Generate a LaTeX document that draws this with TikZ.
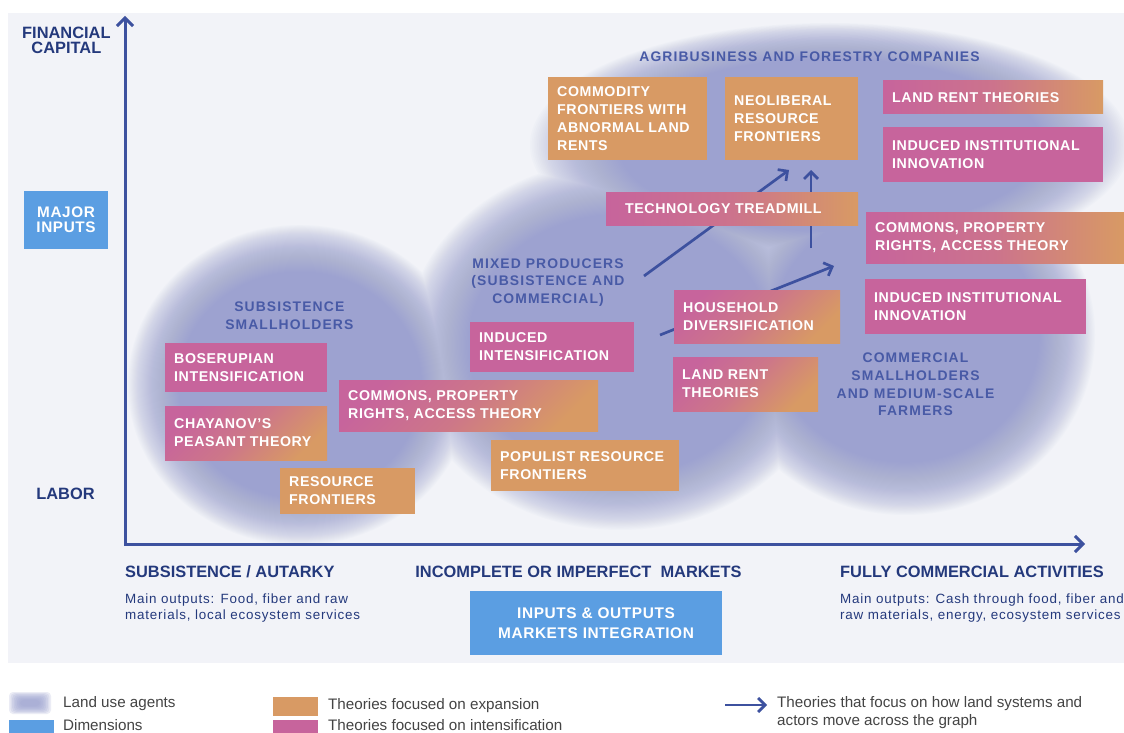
\documentclass[tikz,border=0pt]{standalone}
\usepackage{fontspec}
\setmainfont{Liberation Sans}
\newfontfamily\boxf{Liberation Sans}[LetterSpace=4]
\newfontfamily\agentf{Liberation Sans}[LetterSpace=8]
\newfontfamily\smallf{Liberation Sans}[LetterSpace=6]
\usetikzlibrary{arrows.meta}
\definecolor{panelbg}{HTML}{F2F3F8}
\definecolor{orangec}{HTML}{D89A64}
\definecolor{pinkc}{HTML}{C7649C}
\definecolor{bluec}{HTML}{5B9EE2}
\definecolor{navy}{HTML}{24397C}
\definecolor{agentc}{HTML}{485AA6}
\definecolor{axisc}{HTML}{3D519F}
\definecolor{blobc}{HTML}{9BA2D0}
\definecolor{legtext}{HTML}{444444}
\tikzset{
  tbox/.style={inner sep=0pt, outer sep=0pt},
  orangefill/.style={fill=orangec},
  pinkfill/.style={fill=pinkc},
  gradH/.style={left color=pinkc, right color=orangec, middle color=pinkc!72!orangec},
  gradD/.style={top color=pinkc, bottom color=orangec, middle color=pinkc!65!orangec, shading angle=45},
  boxtext/.style={inner sep=0pt, text=white, align=left, font={\boxf\bfseries\fontsize{14.2}{18}\selectfont}},
  dimbox/.style={fill=bluec, inner sep=0pt, outer sep=0pt, text=white, align=center},
  agent/.style={inner sep=0pt, text=agentc, align=center, font={\agentf\bfseries\fontsize{13.9}{17.6}\selectfont}},
  axislab/.style={inner sep=0pt, text=navy, align=center, font={\bfseries\fontsize{16.4}{15}\selectfont}},
  botlab/.style={inner sep=0pt, text=navy, font={\bfseries\fontsize{16.4}{18}\selectfont}},
  mainout/.style={inner sep=0pt, text=navy, align=left, anchor=west, font={\smallf\fontsize{13.4}{16}\selectfont}},
  legend/.style={inner sep=0pt, text=legtext, align=left, anchor=west, font={\fontsize{15.2}{18}\selectfont}},
  mover/.style={draw=axisc, line width=2.7pt, -{Straight Barb[length=7pt,width=14pt]}},
  axisline/.style={draw=axisc, line width=3pt, line join=miter, {Straight Barb[length=8pt,width=16pt]}-{Straight Barb[length=8pt,width=16pt]}},
  blob/.style={fill=blobc, fill opacity=0.037, nonzero rule},
}
\newcommand\theorybox[7]{%
  \pgfmathsetmacro\tbw{#4-#2}%
  \pgfmathsetmacro\tbh{#5-#3}%
  \node[tbox, #6, minimum width=\tbw pt, minimum height=\tbh pt, anchor=north west] (#1) at (#2,#3) {};
  \node[boxtext, anchor=west] (#1-t) at ([xshift=9pt]#1.west) {#7};
}
\begin{document}
\begin{tikzpicture}[x=1pt,y=-1pt]
\useasboundingbox (0,0) rectangle (1124,733);
\fill[white] (0,0) rectangle (1124,733);
% panel
\fill[panelbg] (8,13) rectangle (1124,663);
% land use agents (blurred clouds: union of soft layers)
\foreach \k in {0,...,49}{
  \pgfmathsetmacro\sc{1-0.006*\k}
  \fill[blob]
    (300,385) ellipse [x radius=\sc*172, y radius=\sc*160]
    (620,345) ellipse [x radius=\sc*215, y radius=\sc*185]
    (830,145) ellipse [x radius=\sc*300, y radius=\sc*122]
    (905,335) ellipse [x radius=\sc*190, y radius=\sc*180];
}
% movement arrows (under boxes)
\coordinate (a1s) at (644,276);
\coordinate (a1e) at (789,170);
\coordinate (a2s) at (811,248);
\coordinate (a2e) at (811,170);
\coordinate (a3s) at (660,335);
\coordinate (a3e) at (834,266);
\draw[mover] (a1s) -- (a1e);
\draw[mover] (a2s) -- (a2e);
\draw[mover] (a3s) -- (a3e);
% theory boxes
\theorybox{comm}{548}{77}{707}{160}{orangefill}{COMMODITY\\FRONTIERS WITH\\ABNORMAL LAND\\RENTS}
\theorybox{neolib}{725}{77}{858}{160}{orangefill}{NEOLIBERAL\\RESOURCE\\FRONTIERS}
\theorybox{landrentA}{883}{81}{1103}{114}{gradH}{LAND RENT THEORIES}
\theorybox{iiiA}{883}{127}{1103}{182}{pinkfill}{INDUCED INSTITUTIONAL\\INNOVATION}
\theorybox{techtm}{606}{192}{858}{225}{gradH}{\hspace*{10pt}TECHNOLOGY TREADMILL}
\theorybox{commonsA}{866}{212}{1124}{263}{gradH}{COMMONS, PROPERTY\\RIGHTS, ACCESS THEORY}
\theorybox{iiiB}{865}{279}{1086}{334}{pinkfill}{INDUCED INSTITUTIONAL\\INNOVATION}
\theorybox{hhd}{674}{290}{840}{343}{gradD}{HOUSEHOLD\\DIVERSIFICATION}
\theorybox{landrentB}{673}{357}{818}{411}{gradD}{LAND RENT\\THEORIES}
\theorybox{indint}{470}{322}{634}{372}{pinkfill}{INDUCED\\INTENSIFICATION}
\theorybox{boser}{165}{343}{327}{392}{pinkfill}{BOSERUPIAN\\INTENSIFICATION}
\theorybox{chay}{165}{406}{327}{460}{gradD}{CHAYANOV’S\\PEASANT THEORY}
\theorybox{commonsB}{339}{380}{598}{431}{gradD}{COMMONS, PROPERTY\\RIGHTS, ACCESS THEORY}
\theorybox{resfr}{280}{468}{415}{514}{orangefill}{RESOURCE\\FRONTIERS}
\theorybox{popul}{491}{440}{679}{491}{orangefill}{POPULIST RESOURCE\\FRONTIERS}
% dimension boxes
\node[dimbox, minimum width=84pt, minimum height=58pt, anchor=north west, font={\boxf\bfseries\fontsize{15.3}{15}\selectfont}] (major) at (24,191) {MAJOR\\INPUTS};
\node[dimbox, minimum width=252pt, minimum height=64pt, anchor=north west, font={\boxf\bfseries\fontsize{15.4}{19.5}\selectfont}] (inout) at (470,591) {INPUTS \& OUTPUTS\\MARKETS INTEGRATION};
% axes
\coordinate (origin) at (125,544);
\coordinate (ytip) at (125,16);
\coordinate (xtip) at (1085,544);
\draw[axisline] (ytip) -- (origin) -- (xtip);
% axis labels
\node[axislab] (fincap) at (66.4,40.8) {FINANCIAL\\CAPITAL};
\node[axislab] (labor) at (65.5,494) {LABOR};
% agents labels
\node[agent] (agri) at (809.5,57) {AGRIBUSINESS AND FORESTRY COMPANIES};
\node[agent] (subs) at (289.3,316) {SUBSISTENCE\\SMALLHOLDERS};
\node[agent] (mixed) at (548,282.5) {MIXED PRODUCERS\\(SUBSISTENCE AND\\COMMERCIAL)};
\node[agent] (comsm) at (915.5,384.5) {COMMERCIAL\\SMALLHOLDERS\\AND MEDIUM-SCALE\\FARMERS};
% bottom labels
\node[botlab, anchor=west] (subaut) at (125,572) {SUBSISTENCE / AUTARKY};
\node[botlab] (incomp) at (578.5,572) {INCOMPLETE OR IMPERFECT\ \ MARKETS};
\node[botlab, anchor=west] (fullc) at (840,572) {FULLY COMMERCIAL ACTIVITIES};
\node[mainout] (mo1) at (125,608) {Main outputs: Food, fiber and raw\\materials, local ecosystem services};
\node[mainout] (mo2) at (840,608) {Main outputs: Cash through food, fiber and\\raw materials, energy, ecosystem services};
% legend
\foreach \k in {0,...,7}{
  \fill[blobc, fill opacity=0.2, rounded corners=4pt] (9+1.6*\k,692+1.1*\k) rectangle (51-1.6*\k,714-1.1*\k);
}
\node[tbox, fill=bluec, minimum width=45pt, minimum height=16pt, anchor=north west] (swdim) at (9,720) {};
\node[tbox, fill=orangec, minimum width=45pt, minimum height=19pt, anchor=north west] (swexp) at (273,697) {};
\node[tbox, fill=pinkc, minimum width=45pt, minimum height=16pt, anchor=north west] (swint) at (273,720) {};
\node[legend] (leg1) at (63,704) {Land use agents};
\node[legend] (leg2) at (63,725.5) {Dimensions};
\node[legend] (leg3) at (328,706) {Theories focused on expansion};
\node[legend] (leg4) at (328,725.5) {Theories focused on intensification};
\coordinate (lgs) at (725,705);
\coordinate (lge) at (767,705);
\draw[mover] (lgs) -- (lge);
\node[legend] (leg5) at (777,712.5) {Theories that focus on how land systems and\\actors move across the graph};
\end{tikzpicture}
\end{document}
